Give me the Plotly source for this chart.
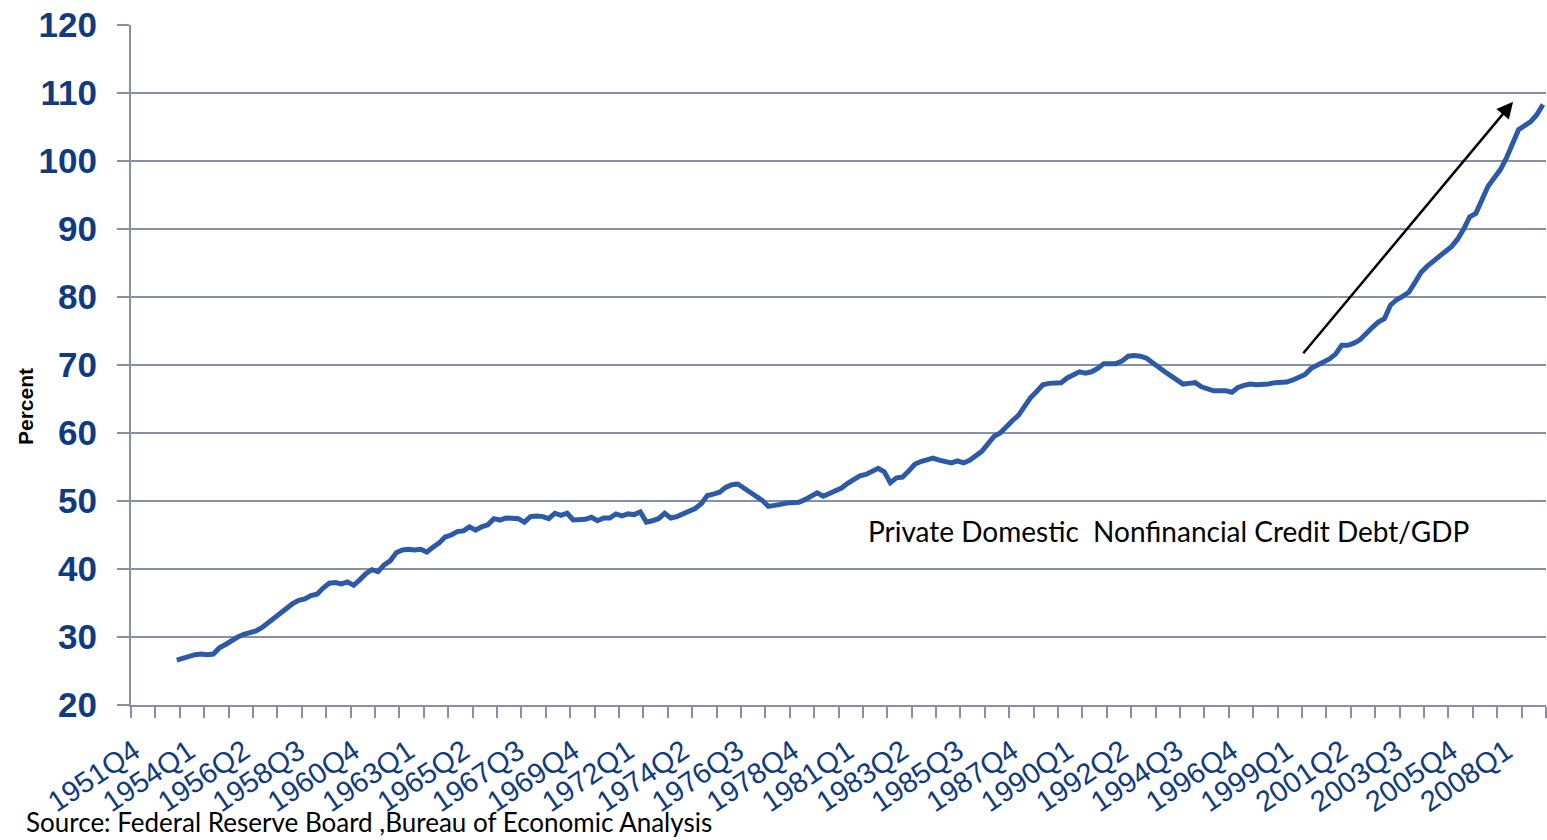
import plotly.graph_objects as go

# ---- categories: quarterly from 1951Q4 ----
first_year, first_q, n_quarters = 1951, 4, 232
quarters = []
y, q = first_year, first_q
for _ in range(n_quarters):
    quarters.append(f"{y}Q{q}")
    q += 1
    if q == 5:
        q = 1
        y += 1

label_every = 9
tick_every = 4
series_start = "1953Q3"

# Private domestic nonfinancial credit debt / GDP (percent)
debt_gdp = [
    26.6, 26.9, 27.2, 27.4, 27.5, 27.4, 27.5, 28.4, 28.9, 29.5,
    30.0, 30.4, 30.7, 30.9, 31.4, 32.1, 32.8, 33.6, 34.4, 34.9,
    35.4, 35.6, 36.1, 36.3, 37.2, 37.9, 38.0, 37.8, 38.1, 37.6,
    38.4, 39.3, 39.9, 39.6, 40.6, 41.2, 42.4, 42.8, 42.9, 42.8,
    42.9, 42.5, 43.2, 43.8, 44.7, 45.0, 45.5, 45.6, 46.2, 45.7,
    46.2, 46.5, 47.4, 47.2, 47.5, 47.5, 47.4, 46.9, 47.7, 47.8,
    47.7, 47.4, 48.2, 47.9, 48.2, 47.2, 47.2, 47.3, 47.6, 47.1,
    47.5, 47.5, 48.1, 47.8, 48.1, 48.0, 48.4, 46.9, 47.1, 47.4,
    48.2, 47.5, 47.7, 48.1, 48.5, 48.9, 49.6, 50.8, 51.0, 51.3,
    52.0, 52.4, 52.5, 51.9, 51.3, 50.9, 50.1, 49.2, 49.3, 49.5,
    49.7, 49.7, 49.8, 50.2, 50.8, 51.2, 50.7, 51.1, 51.3, 51.9,
    52.6, 53.2, 53.7, 53.9, 54.3, 54.8, 54.3, 52.7, 53.4, 53.5,
    54.4, 55.4, 55.8, 56.1, 56.3, 56.0, 55.8, 55.6, 55.9, 55.6,
    56.0, 56.6, 57.3, 58.4, 59.5, 60.0, 61.0, 61.8, 62.6, 63.9,
    65.2, 66.1, 67.1, 67.3, 67.3, 67.4, 68.1, 68.6, 69.0, 68.8,
    69.0, 69.5, 70.2, 70.2, 70.2, 70.6, 71.3, 71.4, 71.3, 71.0,
    70.3, 69.5, 69.0, 68.4, 67.9, 67.2, 67.3, 67.4, 66.8, 66.4,
    66.2, 66.2, 66.2, 66.0, 66.7, 67.0, 67.2, 67.1, 67.1, 67.2,
    67.4, 67.4, 67.5, 67.8, 68.2, 68.6, 69.5, 70.0, 70.3, 70.9,
    71.6, 72.9, 72.9, 73.2, 73.7, 74.7, 75.5, 76.3, 76.8, 78.8,
    79.6, 80.1, 80.7, 82.1, 83.6, 84.5, 85.3, 86.0, 86.7, 87.4,
    88.5, 90.0, 91.8, 92.3, 94.2, 96.3, 97.5, 98.7, 100.4, 102.5,
    104.6, 105.2, 105.8, 106.8, 108.3,
]

y_ticks = [20, 30, 40, 50, 60, 70, 80, 90, 100, 110, 120]

annotation_text = "Private Domestic  Nonfinancial Credit Debt/GDP"
source_text = "Source: Federal Reserve Board ,Bureau of Economic Analysis"
y_title = "Percent"

# arrow (tail -> head) in data coordinates
arrow_tail = (191.5, 71.5)
arrow_head = (226.1, 108.7)

# ---- derived ----
start_idx = quarters.index(series_start)
x_pos = [start_idx + k for k in range(len(debt_gdp))]
label_pos = list(range(0, n_quarters, label_every))
label_txt = [quarters[i] for i in label_pos]
tick_pos = [k - 0.5 for k in range(0, n_quarters + 1, tick_every)]

axis_col = "#8890A8"
label_col = "#0E3B82"
line_col = "#2C5AA6"

W, H = 1547, 840
L, R, T, B = 131, 1, 25, 135
pw, ph = W - L - R, H - T - B


def px_to_paper(px, py):
    return (px - L) / pw, (H - B - py) / ph


fig = go.Figure()
fig.add_trace(go.Scatter(
    x=x_pos, y=debt_gdp, mode="lines",
    line=dict(color=line_col, width=5),
    hoverinfo="skip", showlegend=False,
))

fig.update_layout(
    width=W, height=H,
    margin=dict(l=L, r=R, t=T, b=B),
    plot_bgcolor="white", paper_bgcolor="white",
    font=dict(family="Liberation Sans, Arial, sans-serif"),
    xaxis=dict(
        range=[-0.5, n_quarters - 0.5],
        tickmode="array", tickvals=label_pos, ticktext=label_txt,
        tickangle=-34, ticks="", ticklen=0,
        tickfont=dict(size=29, color=label_col),
        ticklabelstandoff=16,
        showline=True, linecolor=axis_col, linewidth=2,
        showgrid=False, zeroline=False,
        minor=dict(tickmode="array", tickvals=tick_pos, ticks="outside",
                   ticklen=11, tickwidth=2, tickcolor=axis_col, showgrid=False),
    ),
    yaxis=dict(
        range=[20, 120], tickmode="array", tickvals=y_ticks,
        ticks="outside", ticklen=12, tickwidth=2, tickcolor=axis_col,
        tickfont=dict(size=35, color=label_col, family="Liberation Sans, Arial, sans-serif", weight="bold"),
        ticklabelstandoff=13,
        showline=True, linecolor=axis_col, linewidth=2,
        showgrid=True, gridcolor=axis_col, gridwidth=2, zeroline=False,
    ),
)

fig.add_annotation(
    x=arrow_head[0], y=arrow_head[1], ax=arrow_tail[0], ay=arrow_tail[1],
    xref="x", yref="y", axref="x", ayref="y",
    showarrow=True, arrowhead=2, arrowsize=1.3, arrowwidth=2.5, arrowcolor="black",
    text="",
)

ax_, ay_ = px_to_paper(866, 531)
fig.add_annotation(
    x=ax_, y=ay_, xref="paper", yref="paper", text=annotation_text,
    showarrow=False, xanchor="left", yanchor="middle",
    font=dict(family="Lato, Open Sans, sans-serif", size=28, color="black"),
)
sx, sy = px_to_paper(24, 822)
fig.add_annotation(
    x=sx, y=sy, xref="paper", yref="paper", text=source_text, showarrow=False,
    xanchor="left", yanchor="middle",
    font=dict(family="Lato, Open Sans, sans-serif", size=26, color="black"),
)
tx, ty = px_to_paper(25, 407)
fig.add_annotation(
    x=tx, y=ty, xref="paper", yref="paper", text=y_title, showarrow=False, textangle=-90,
    xanchor="center", yanchor="middle",
    font=dict(family="Liberation Sans, Arial, sans-serif", size=21, color="black", weight="bold"),
)

fig.write_html(
    "out.html",
    config={"displayModeBar": False},
    post_script="document.body.style.margin='0';document.body.style.overflow='hidden';",
)
